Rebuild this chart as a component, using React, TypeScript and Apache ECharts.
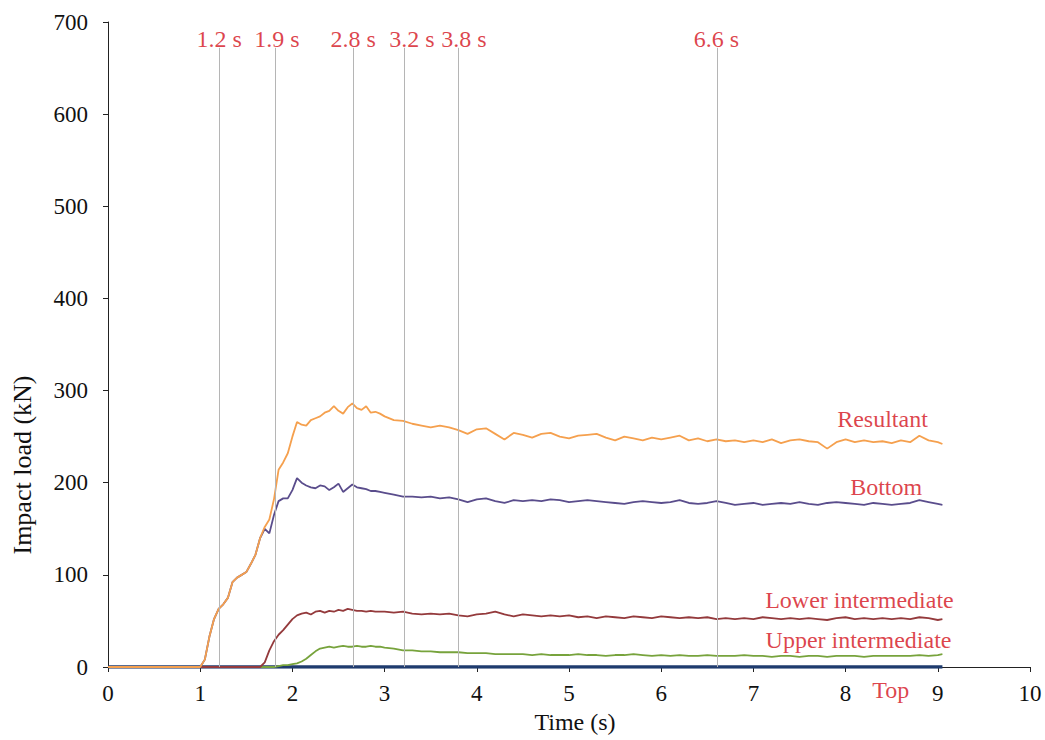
import React, { useEffect, useRef } from "react";
import * as echarts from "echarts";

const T = [
  0, 0.95, 1.0, 1.05, 1.1, 1.15, 1.2, 1.25, 1.3, 1.35, 1.4, 1.45, 1.5, 1.55, 1.6, 1.65,
  1.7, 1.75, 1.8, 1.85, 1.9, 1.95, 2.0, 2.05, 2.1, 2.15, 2.2, 2.25, 2.3, 2.35,
  2.4, 2.45, 2.5, 2.55, 2.6, 2.65, 2.7, 2.75, 2.8, 2.85, 2.9, 2.95, 3.0,
  3.1, 3.2, 3.3, 3.4, 3.5, 3.6, 3.7, 3.8, 3.9, 4.0,
  4.1, 4.2, 4.3, 4.4, 4.5, 4.6, 4.7, 4.8, 4.9, 5.0,
  5.1, 5.2, 5.3, 5.4, 5.5, 5.6, 5.7, 5.8, 5.9, 6.0,
  6.1, 6.2, 6.3, 6.4, 6.5, 6.6, 6.7, 6.8, 6.9, 7.0,
  7.1, 7.2, 7.3, 7.4, 7.5, 7.6, 7.7, 7.8, 7.9, 8.0,
  8.1, 8.2, 8.3, 8.4, 8.5, 8.6, 8.7, 8.8, 8.9, 9.0, 9.05,
];

const RESULTANT = [
  0, 0, 0, 8, 33, 52, 63, 68, 75, 92, 97, 100, 103, 112, 122, 140,
  152, 160, 182, 214, 222, 232, 250, 266, 263, 262, 268, 270, 272, 276,
  278, 283, 278, 275, 282, 286, 281, 279, 283, 276, 277, 275, 272,
  268, 267, 264, 262, 260, 262, 260, 257, 253, 258,
  259, 253, 247, 254, 252, 249, 253, 254, 250, 248,
  251, 252, 253, 249, 246, 250, 248, 246, 249, 247,
  249, 251, 246, 248, 245, 247, 245, 246, 244, 246,
  244, 247, 243, 246, 247, 245, 244, 237, 244, 247,
  244, 246, 244, 245, 243, 246, 244, 251, 246, 244, 242,
];

const BOTTOM = [
  0, 0, 0, 8, 33, 52, 63, 68, 75, 92, 97, 100, 103, 112, 122, 140,
  150, 145, 165, 180, 183, 183, 192, 205, 200, 197, 195, 194, 197, 196,
  192, 195, 199, 190, 194, 198, 195, 194, 193, 191, 191, 190, 189,
  187, 185, 185, 184, 185, 183, 184, 182, 179, 182,
  183, 180, 178, 181, 180, 181, 180, 182, 181, 179,
  180, 181, 180, 179, 178, 177, 179, 180, 179, 178,
  179, 181, 178, 177, 178, 180, 178, 176, 177, 178,
  176, 177, 178, 177, 179, 177, 176, 178, 179, 178,
  177, 176, 178, 177, 176, 177, 178, 181, 179, 177, 176,
];

const LOWER = [
  0, 0, 0, 0, 0, 0, 0, 0, 0, 0, 0, 0, 0, 0, 0, 0,
  5, 18, 28, 35, 40, 46, 52, 56, 58, 59, 57, 60, 61, 59,
  61, 60, 62, 61, 63, 62, 61, 61, 60, 61, 60, 60, 60,
  59, 60, 58, 57, 58, 57, 58, 56, 55, 57,
  58, 60, 57, 55, 57, 56, 55, 56, 55, 56,
  54, 55, 53, 55, 54, 53, 55, 54, 53, 55,
  54, 53, 54, 53, 54, 52, 53, 52, 53, 52,
  54, 53, 52, 53, 52, 53, 52, 51, 53, 54,
  52, 53, 52, 53, 52, 53, 52, 54, 53, 51, 52,
];

const UPPER = [
  0, 0, 0, 0, 0, 0, 0, 0, 0, 0, 0, 0, 0, 0, 0, 0,
  0, 0, 0, 1, 2, 2, 3, 4, 6, 9, 13, 17, 20, 21,
  22, 21, 22, 23, 22, 22, 23, 22, 22, 23, 22, 22, 21,
  20, 18, 18, 17, 17, 16, 16, 16, 15, 15,
  15, 14, 14, 14, 14, 13, 14, 13, 13, 13,
  14, 13, 13, 12, 13, 13, 14, 13, 12, 13,
  12, 13, 12, 12, 13, 12, 12, 12, 13, 12,
  12, 11, 12, 12, 11, 12, 12, 11, 12, 12,
  12, 11, 12, 12, 12, 12, 12, 13, 12, 13, 14,
];

const TOP_T = [0, 9.05];
const TOP_V = [0, 0];

const VLINE_X = [1.21, 1.81, 2.66, 3.21, 3.8, 6.61];
const VLINE_TOP = 672;
const VLINE_LABELS = ["1.2 s", "1.9 s", "2.8 s", "3.2 s", "3.8 s", "6.6 s"];
const VLINE_LABEL_X = [1.206, 1.832, 2.66, 3.296, 3.86, 6.6];
const VLINE_LABEL_Y = 682;

const SERIES_LABELS = ["Resultant", "Bottom", "Lower intermediate", "Upper intermediate", "Top"];
const SERIES_LABEL_X = [8.4, 8.44, 8.15, 8.14, 8.49];
const SERIES_LABEL_Y = [269, 195, 73, 29, -25];

const FONT = "Liberation Serif, Times New Roman, serif";
const RED = "#d4121c";

export default function App() {
  const ref = useRef<HTMLDivElement>(null);

  useEffect(() => {
    if (!ref.current) return;
    const chart = echarts.init(ref.current, null, { renderer: "svg" });
    const mk = (vals: number[]) => T.map((t, i) => [t, vals[i]]);

    const lineSeries = (name: string, data: any, color: string, width: number) => ({
      name,
      type: "line",
      data,
      showSymbol: false,
      symbol: "none",
      lineStyle: { color, width },
      itemStyle: { color },
      silent: true,
    });

    chart.setOption({
      animation: false,
      backgroundColor: "#ffffff",
      grid: { left: 108, right: 15, top: 22, bottom: 73, containLabel: false },
      xAxis: {
        type: "value",
        min: 0,
        max: 10,
        interval: 1,
        axisLine: { show: true, lineStyle: { color: "#222", width: 1 } },
        axisTick: { show: true, inside: false, length: 5, lineStyle: { color: "#222" } },
        axisLabel: { color: "#111", fontFamily: FONT, fontSize: 23, margin: 15 },
        splitLine: { show: false },
        name: "Time (s)",
        nameLocation: "middle",
        nameGap: 42,
        nameTextStyle: { color: "#111", fontFamily: FONT, fontSize: 24, padding: [0, 0, 0, 12] },
      },
      yAxis: {
        type: "value",
        min: 0,
        max: 700,
        interval: 100,
        axisLine: { show: true, lineStyle: { color: "#222", width: 1 } },
        axisTick: { show: true, inside: false, length: 5, lineStyle: { color: "#222" } },
        axisLabel: { color: "#111", fontFamily: FONT, fontSize: 23, margin: 20 },
        splitLine: { show: false },
      },
      graphic: [
        {
          type: "text",
          x: 22,
          y: 465,
          rotation: Math.PI / 2,
          style: {
            text: "Impact load (kN)",
            fontFamily: FONT,
            fontSize: 26,
            fill: "#111",
            textAlign: "center",
            textVerticalAlign: "middle",
          },
        },
      ],
      series: [
        {
          type: "line",
          data: [],
          silent: true,
          markLine: {
            silent: true,
            symbol: "none",
            label: { show: false },
            lineStyle: { color: "#b5b5b5", width: 1, type: "solid" },
            data: VLINE_X.map((x) => [{ coord: [x, 0] }, { coord: [x, VLINE_TOP] }]),
          },
        },
        lineSeries("Top", TOP_T.map((t, i) => [t, TOP_V[i]]), "#1f3b6e", 3.5),
        lineSeries("Upper intermediate", mk(UPPER), "#77a33c", 1.8),
        lineSeries("Lower intermediate", mk(LOWER), "#943a3c", 1.8),
        lineSeries("Bottom", mk(BOTTOM), "#5a4d8c", 1.8),
        lineSeries("Resultant", mk(RESULTANT), "#f5a04e", 1.8),
        {
          type: "scatter",
          symbolSize: 0,
          clip: false,
          silent: true,
          data: VLINE_LABELS.map((s, i) => ({ value: [VLINE_LABEL_X[i], VLINE_LABEL_Y], name: s })),
          label: {
            show: true,
            position: "inside",
            formatter: (p: any) => p.name,
            color: RED,
            fontFamily: FONT,
            fontSize: 24,
          },
        },
        {
          type: "scatter",
          symbolSize: 0,
          clip: false,
          silent: true,
          data: SERIES_LABELS.map((s, i) => ({ value: [SERIES_LABEL_X[i], SERIES_LABEL_Y[i]], name: s })),
          label: {
            show: true,
            position: "inside",
            formatter: (p: any) => p.name,
            color: RED,
            fontFamily: FONT,
            fontSize: 24,
          },
        },
      ],
    });

    return () => chart.dispose();
  }, []);

  return (
    <div
      ref={ref}
      style={{ position: "fixed", left: 0, top: 0, width: 1045, height: 740, background: "#fff" }}
    />
  );
}
